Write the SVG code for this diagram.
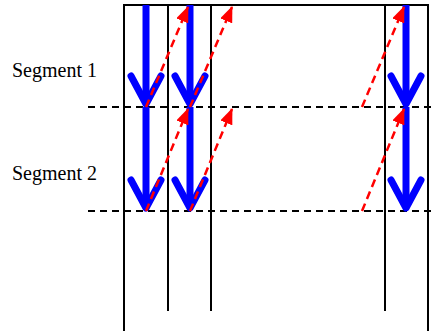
<svg xmlns="http://www.w3.org/2000/svg" width="435" height="333" viewBox="0 0 435 333">
<style>
.frame{stroke:#000;stroke-width:2;fill:none}
.seg{stroke:#000;stroke-width:2;stroke-dasharray:7 5;fill:none}
.blue{stroke:#0000ff;stroke-width:7;fill:none;stroke-linecap:butt}
.head{stroke:#0000ff;stroke-width:7;fill:none;stroke-linecap:round;stroke-linejoin:round}
.red{stroke:#ff0000;stroke-width:2.5;stroke-dasharray:8 5;fill:none;marker-end:url(#rh)}
.lbl{font-family:"Liberation Serif","Times New Roman",serif;font-size:20px;fill:#000}
</style>
<defs>
<marker id="rh" markerUnits="userSpaceOnUse" markerWidth="16" markerHeight="13" refX="15" refY="6.5" orient="auto" viewBox="0 0 16 13">
<path d="M0,0 L16,6.5 L0,13 z" fill="#ff0000"/>
</marker>
</defs>
<rect width="435" height="333" fill="#fff"/>
<g id="frame">
<line class="frame" x1="124" y1="5" x2="428" y2="5"/>
<line class="frame" x1="124" y1="4" x2="124" y2="331"/>
<line class="frame" x1="168" y1="4" x2="168" y2="311"/>
<line class="frame" x1="211" y1="4" x2="211" y2="311"/>
<line class="frame" x1="385" y1="4" x2="385" y2="311"/>
<line class="frame" x1="428" y1="4" x2="428" y2="331"/>
</g>
<g id="boundaries">
<line class="seg" x1="88" y1="107" x2="435" y2="107"/>
<line class="seg" x1="88" y1="211" x2="435" y2="211"/>
</g>
<g id="label1"><text class="lbl" x="12" y="77">Segment 1</text></g>
<g id="label2"><text class="lbl" x="12" y="180">Segment 2</text></g>
<g id="connectors">
<g id="blue-s1">
<line class="blue" x1="146" y1="5" x2="146" y2="104"/>
<polyline class="head" points="131,76 146,104 161,76"/>
<line class="blue" x1="190" y1="5" x2="190" y2="104"/>
<polyline class="head" points="175,76 190,104 205,76"/>
<line class="blue" x1="406" y1="5" x2="406" y2="104"/>
<polyline class="head" points="391,76 406,104 421,76"/>
</g>
<g id="blue-s2">
<line class="blue" x1="146" y1="107" x2="146" y2="208"/>
<polyline class="head" points="131,180 146,208 161,180"/>
<line class="blue" x1="190" y1="107" x2="190" y2="208"/>
<polyline class="head" points="175,180 190,208 205,180"/>
<line class="blue" x1="406" y1="107" x2="406" y2="208"/>
<polyline class="head" points="391,180 406,208 421,180"/>
</g>
<g id="red-s1">
<line class="red" x1="146" y1="107" x2="188" y2="7"/>
<line class="red" x1="190" y1="107" x2="232" y2="7"/>
<line class="red" x1="362" y1="107" x2="404" y2="7"/>
</g>
<g id="red-s2">
<line class="red" x1="146" y1="211" x2="188" y2="109"/>
<line class="red" x1="190" y1="211" x2="232" y2="109"/>
<line class="red" x1="362" y1="211" x2="404" y2="109"/>
</g>
</g>
</svg>
